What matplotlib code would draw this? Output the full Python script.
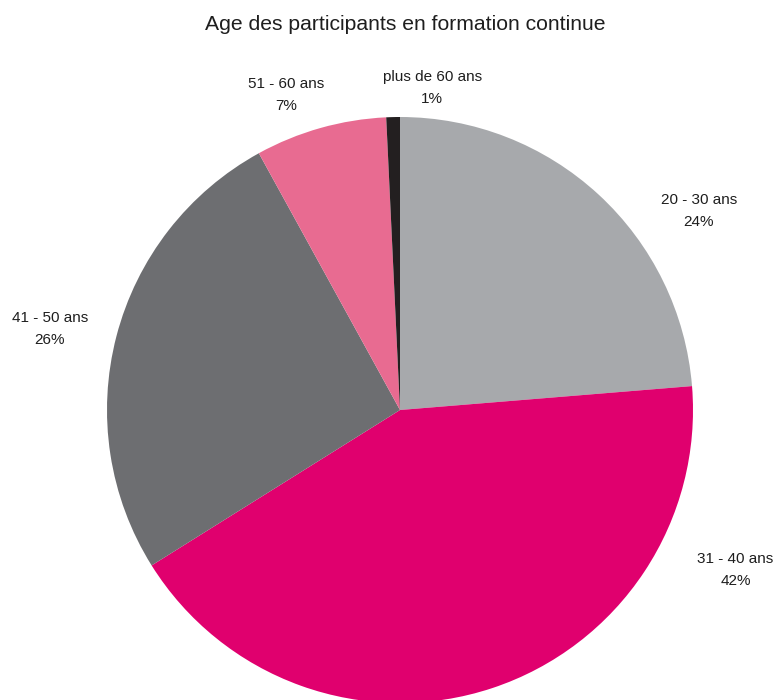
import matplotlib
matplotlib.use("Agg")
import matplotlib.pyplot as plt
import numpy as np

plt.rcParams['font.family'] = ['Liberation Sans', 'DejaVu Sans']

title = "Age des participants en formation continue"
categories = ["20 - 30 ans", "31 - 40 ans", "41 - 50 ans", "51 - 60 ans", "plus de 60 ans"]
values = [23.7, 42.4, 25.9, 7.25, 0.75]
colors = ["#a7a9ac", "#e0006e", "#6d6e71", "#e86b91", "#231f20"]

# label centres, in pie-radius units
label_pos = [(1.02, 0.68), (1.145, -0.545), (-1.195, 0.275), (-0.39, 1.075), (0.11, 1.10)]

fig = plt.figure(figsize=(7.77, 7.0), dpi=100)
ax = fig.add_axes([(400 - 293) / 777, 1 - (410 + 293) / 700, 586 / 777, 586 / 700])

wedges, _ = ax.pie(values, colors=colors, startangle=90, counterclock=False,
                   radius=1.0, wedgeprops=dict(linewidth=0))
for w in wedges:
    w.set_clip_on(False)
ax.set_xlim(-1, 1)
ax.set_ylim(-1, 1)
ax.set_aspect('equal')
ax.axis('off')

for cat, v, (lx, ly) in zip(categories, values, label_pos):
    ax.text(lx, ly, f"{cat}\n{round(v)}%", ha='center', va='center',
            fontsize=11.0, color='#1e1e1e', linespacing=1.72, clip_on=False)

fig.text(405 / 777, 1 - 25 / 700, title, ha='center', va='center',
         fontsize=15.2, color='#1e1e1e')

fig.savefig("out.png", dpi=100)
